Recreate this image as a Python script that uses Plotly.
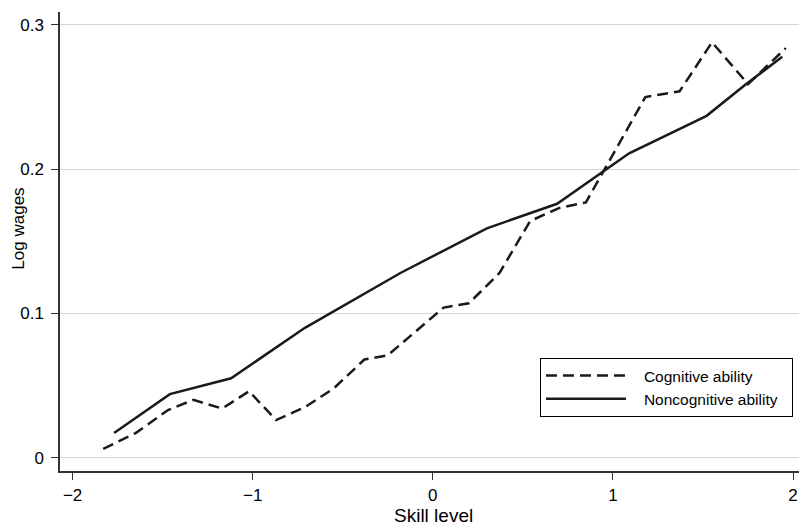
import plotly.graph_objects as go

# Data
cog_x = [-1.83, -1.65, -1.47, -1.33, -1.17, -1.02, -0.87, -0.71, -0.55, -0.38, -0.25,
         0.06, 0.20, 0.37, 0.54, 0.70, 0.85, 1.18, 1.37, 1.55, 1.75, 1.96]
cog_y = [0.006, 0.017, 0.033, 0.040, 0.034, 0.046, 0.026, 0.035, 0.048, 0.068, 0.071,
         0.104, 0.107, 0.128, 0.164, 0.173, 0.177, 0.250, 0.254, 0.288, 0.259, 0.284]

noncog_x = [-1.77, -1.46, -1.12, -0.71, -0.18, 0.30, 0.69, 1.09, 1.52, 1.74, 1.94]
noncog_y = [0.017, 0.044, 0.055, 0.090, 0.128, 0.159, 0.176, 0.211, 0.237, 0.259, 0.278]

x_ticks = [-2, -1, 0, 1, 2]
y_ticks = [0, 0.1, 0.2, 0.3]
y_tick_labels = ["0", "0.1", "0.2", "0.3"]

FONT = "Liberation Sans, Arial, Helvetica, sans-serif"
INK = "#1a1a1a"
PAD = "\u00a0\u00a0\u00a0"

fig = go.Figure()
fig.add_trace(go.Scatter(
    x=cog_x, y=cog_y, mode="lines", name=PAD + "Cognitive ability",
    line=dict(color=INK, width=2.5, dash="11px,6px"),
))
fig.add_trace(go.Scatter(
    x=noncog_x, y=noncog_y, mode="lines", name=PAD + "Noncognitive ability\u00a0\u00a0",
    line=dict(color=INK, width=2.5),
))

fig.update_layout(
    width=799, height=527,
    margin=dict(l=60, r=0, t=12, b=56),
    paper_bgcolor="white", plot_bgcolor="white",
    font=dict(family=FONT, color="black", size=17),
    showlegend=True,
    legend=dict(
        x=0.6495, y=0.2464, xanchor="left", yanchor="top",
        bgcolor="white", bordercolor="black", borderwidth=1,
        font=dict(size=15.5, family=FONT, color="black"),
        itemwidth=80, tracegroupgap=0,
    ),
    xaxis=dict(
        range=[-2.07, 2.033], tickvals=x_ticks,
        ticks="outside", ticklen=7, tickwidth=1.2, tickcolor="#333",
        showline=True, linecolor="#333", linewidth=1.5,
        showgrid=False, zeroline=False,
        tickfont=dict(size=17, family=FONT, color="black"),
        ticklabelstandoff=1,
    ),
    yaxis=dict(
        range=[-0.0093, 0.309], tickvals=y_ticks, ticktext=y_tick_labels,
        ticks="outside", ticklen=7, tickwidth=1.2, tickcolor="#333",
        showline=True, linecolor="#333", linewidth=1.5,
        showgrid=True, gridcolor="#d4d4d4", gridwidth=1,
        zeroline=False,
        tickfont=dict(size=17, family=FONT, color="black"),
        ticklabelstandoff=4,
    ),
    annotations=[
        dict(text="Skill level", xref="paper", yref="paper",
             x=(433 - 60) / 739, y=(470.7 - 515) / 458.7,
             xanchor="center", yanchor="middle", showarrow=False,
             font=dict(size=19, family=FONT, color="black")),
        dict(text="Log wages", xref="paper", yref="paper",
             x=(18.5 - 60) / 739, y=(470.7 - 229) / 458.7,
             xanchor="center", yanchor="middle", showarrow=False, textangle=-90,
             font=dict(size=17, family=FONT, color="black")),
    ],
)

fig.write_html("out.html", config={"displayModeBar": False},
               post_script="document.body.style.margin='0';")
